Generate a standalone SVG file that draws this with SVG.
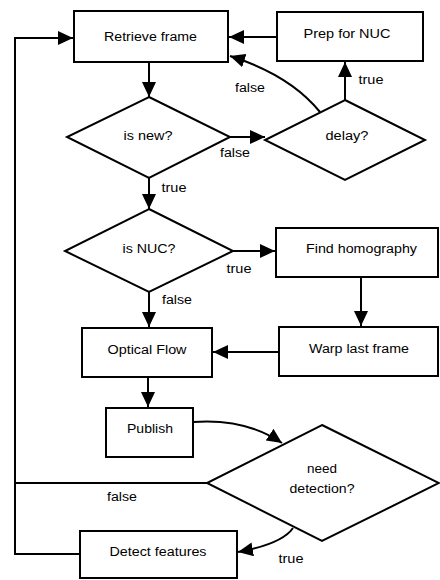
<svg xmlns="http://www.w3.org/2000/svg" width="440" height="580" viewBox="0 0 440 580">
<style>
.box{fill:#fff;stroke:#000;stroke-width:2}
.t{font-family:"Liberation Sans",Arial,sans-serif;font-size:12px;fill:#000;text-anchor:middle}
.c{fill:none;stroke:#000;stroke-width:2}
.a{marker-end:url(#ah)}
</style>
<defs>
<marker id="ah" markerUnits="userSpaceOnUse" markerWidth="15" markerHeight="14" refX="15" refY="7" orient="auto">
<path d="M0,0 L15,7 L0,14 z" fill="#000"/>
</marker>
</defs>
<rect width="440" height="580" fill="#fff"/>
<g id="connectors">
<path class="c a" d="M149,63 L149,97"/>
<path class="c a" d="M230,137 L265,137"/>
<path class="c a" d="M345,100 L345,62"/>
<path class="c a" d="M277,37 L229,37"/>
<path class="c a" d="M320,112 Q290,75 230,56"/>
<path class="c a" d="M149,178 L149,209"/>
<path class="c a" d="M233,251 L275,251"/>
<path class="c a" d="M361,277 L361,326"/>
<path class="c a" d="M279,352 L213,352"/>
<path class="c a" d="M149,292 L149,327"/>
<path class="c a" d="M148,377 L148,407"/>
<path class="c a" d="M193,422 Q245,418 282,443"/>
<path class="c" d="M207,483 L15,483"/>
<path class="c a" d="M293,528 Q282,544 238,552"/>
<path class="c a" d="M80,554 L15,554 L15,38 L73,38"/>
<text class="t" x="235" y="157" textLength="30" lengthAdjust="spacingAndGlyphs">false</text>
<text class="t" x="371" y="84" textLength="25" lengthAdjust="spacingAndGlyphs">true</text>
<text class="t" x="250" y="92" textLength="30" lengthAdjust="spacingAndGlyphs">false</text>
<text class="t" x="174" y="192" textLength="25" lengthAdjust="spacingAndGlyphs">true</text>
<text class="t" x="239" y="273" textLength="25" lengthAdjust="spacingAndGlyphs">true</text>
<text class="t" x="177" y="304" textLength="30" lengthAdjust="spacingAndGlyphs">false</text>
<text class="t" x="122" y="501" textLength="30" lengthAdjust="spacingAndGlyphs">false</text>
<text class="t" x="291" y="563" textLength="25" lengthAdjust="spacingAndGlyphs">true</text>
</g>
<g id="retrieve">
<rect class="box" x="74" y="11" width="154" height="51"/>
<text class="t" x="150.5" y="41" textLength="93" lengthAdjust="spacingAndGlyphs">Retrieve frame</text>
</g>
<g id="prep">
<rect class="box" x="277" y="12" width="146" height="49"/>
<text class="t" x="347" y="38" textLength="87" lengthAdjust="spacingAndGlyphs">Prep for NUC</text>
</g>
<g id="isnew">
<polygon class="box" points="149,97 230,137 149,178 67,137"/>
<text class="t" x="148" y="140" textLength="49" lengthAdjust="spacingAndGlyphs">is new?</text>
</g>
<g id="delay">
<polygon class="box" points="345,100 425,140 345,180 265,140"/>
<text class="t" x="347" y="140" textLength="43" lengthAdjust="spacingAndGlyphs">delay?</text>
</g>
<g id="isnuc">
<polygon class="box" points="149,209 233,251 149,292 65,251"/>
<text class="t" x="149" y="253" textLength="53" lengthAdjust="spacingAndGlyphs">is NUC?</text>
</g>
<g id="homography">
<rect class="box" x="276" y="228" width="162" height="49"/>
<text class="t" x="361.5" y="253" textLength="111" lengthAdjust="spacingAndGlyphs">Find homography</text>
</g>
<g id="warp">
<rect class="box" x="279" y="327" width="159" height="49"/>
<text class="t" x="359" y="353" textLength="100" lengthAdjust="spacingAndGlyphs">Warp last frame</text>
</g>
<g id="optical">
<rect class="box" x="82" y="328" width="130" height="49"/>
<text class="t" x="147" y="354" textLength="79" lengthAdjust="spacingAndGlyphs">Optical Flow</text>
</g>
<g id="publish">
<rect class="box" x="106" y="408" width="87" height="49"/>
<text class="t" x="150" y="433" textLength="46" lengthAdjust="spacingAndGlyphs">Publish</text>
</g>
<g id="needdetection">
<polygon class="box" points="322,425 439,483 322,541 207,483"/>
<text class="t" x="322" y="473" textLength="30" lengthAdjust="spacingAndGlyphs">need</text>
<text class="t" x="322" y="493" textLength="65" lengthAdjust="spacingAndGlyphs">detection?</text>
</g>
<g id="detect">
<rect class="box" x="80" y="531" width="157" height="47"/>
<text class="t" x="158" y="556" textLength="97" lengthAdjust="spacingAndGlyphs">Detect features</text>
</g>
</svg>
